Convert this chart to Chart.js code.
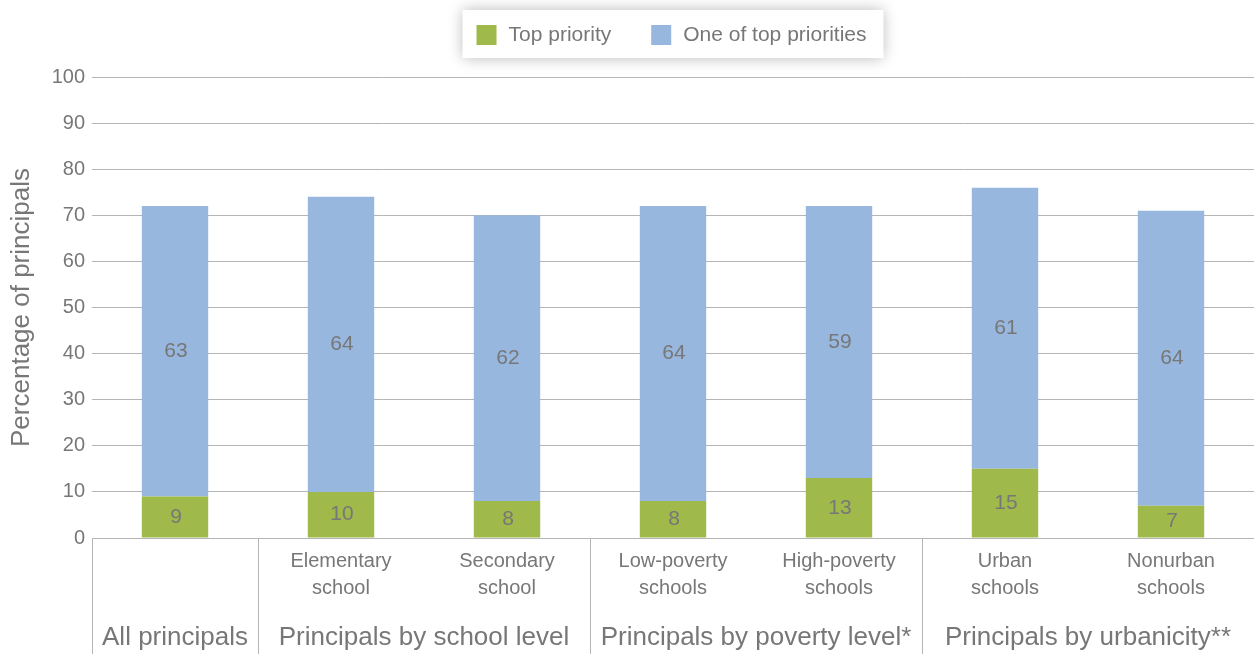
<!DOCTYPE html>
<html>
<head>
<meta charset="utf-8">
<script src="https://cdn.jsdelivr.net/npm/chart.js@4.4.1/dist/chart.umd.min.js"></script>
<style>
  html, body { margin: 0; padding: 0; background: #fff; }
  #wrap { width: 1254px; height: 654px; position: relative; }
</style>
</head>
<body>
<div id="wrap"><canvas id="c" width="1254" height="654"></canvas></div>
<script>
// ---- data ----
const categories = [
  [''],
  ['Elementary', 'school'],
  ['Secondary', 'school'],
  ['Low-poverty', 'schools'],
  ['High-poverty', 'schools'],
  ['Urban', 'schools'],
  ['Nonurban', 'schools']
];
const topPriority = [9, 10, 8, 8, 13, 15, 7];
const oneOfTopPriorities = [63, 64, 62, 64, 59, 61, 64];
const groupNames = ['All principals', 'Principals by school level', 'Principals by poverty level*', 'Principals by urbanicity**'];
const groupSizes = [1, 2, 2, 2];
const seriesNames = ['Top priority', 'One of top priorities'];
const yTicks = [0, 10, 20, 30, 40, 50, 60, 70, 80, 90, 100];

const GREEN = '#9fba4a';
const BLUE = '#97b7de';
const TEXT = '#777777';
const GRID = '#b5b5b5';
const FONT = "'Liberation Sans', Arial, sans-serif";

const valueLabels = {
  id: 'valueLabels',
  afterDatasetsDraw(chart) {
    const ctx = chart.ctx;
    ctx.save();
    ctx.font = '21px ' + FONT;
    ctx.fillStyle = TEXT;
    ctx.textAlign = 'center';
    ctx.textBaseline = 'middle';
    chart.data.datasets.forEach((ds, di) => {
      const meta = chart.getDatasetMeta(di);
      meta.data.forEach((el, i) => {
        const p = el.getProps(['x', 'y', 'base'], true);
        ctx.fillText(String(ds.data[i]), p.x + 1, (p.y + p.base) / 2);
      });
    });
    ctx.restore();
  }
};

const groupsPlugin = {
  id: 'groups',
  afterDraw(chart) {
    const ctx = chart.ctx;
    const xs = chart.scales.x;
    const half = (xs.getPixelForValue(1) - xs.getPixelForValue(0)) / 2;
    const bottom = chart.chartArea.bottom;
    ctx.save();
    ctx.strokeStyle = GRID;
    ctx.lineWidth = 1;
    ctx.font = '26px ' + FONT;
    ctx.fillStyle = TEXT;
    ctx.textAlign = 'center';
    ctx.textBaseline = 'middle';
    let start = 0;
    groupSizes.forEach((n, g) => {
      const x1 = xs.getPixelForValue(start) - half;
      const x2 = xs.getPixelForValue(start + n - 1) + half;
      const lx = Math.round(x1) + 0.5;
      ctx.beginPath();
      ctx.moveTo(lx, bottom);
      ctx.lineTo(lx, chart.height);
      ctx.stroke();
      ctx.fillText(groupNames[g], (x1 + x2) / 2, 638);
      start += n;
    });
    ctx.restore();
  }
};

const legendPlugin = {
  id: 'customLegend',
  afterDraw(chart) {
    const ctx = chart.ctx;
    ctx.save();
    ctx.font = '21px ' + FONT;
    const colors = [GREEN, BLUE];
    const box = 20, gap = 12, itemGap = 40, pad = 14;
    const widths = seriesNames.map(s => ctx.measureText(s).width);
    let total = pad * 2 + 3;
    widths.forEach((w, i) => { total += box + gap + w + (i ? itemGap : 0); });
    const ca = chart.chartArea;
    const cx = (ca.left + ca.right) / 2;
    const bx = cx - total / 2, by = 10, bh = 48;
    ctx.shadowColor = 'rgba(0,0,0,0.28)';
    ctx.shadowBlur = 14;
    ctx.fillStyle = '#ffffff';
    ctx.fillRect(bx, by, total, bh);
    ctx.shadowColor = 'transparent';
    ctx.shadowBlur = 0;
    let x = bx + pad;
    const cy = by + bh / 2 + 1;
    seriesNames.forEach((s, i) => {
      ctx.fillStyle = colors[i];
      ctx.fillRect(x, cy - box / 2, box, box);
      x += box + gap;
      ctx.fillStyle = TEXT;
      ctx.textAlign = 'left';
      ctx.textBaseline = 'middle';
      ctx.fillText(s, x, cy);
      x += widths[i] + itemGap;
    });
    ctx.restore();
  }
};

new Chart(document.getElementById('c'), {
  type: 'bar',
  data: {
    labels: categories,
    datasets: [
      { label: seriesNames[0], data: topPriority, backgroundColor: GREEN },
      { label: seriesNames[1], data: oneOfTopPriorities, backgroundColor: BLUE }
    ]
  },
  options: {
    responsive: false,
    animation: false,
    devicePixelRatio: 1,
    layout: { padding: { top: 77, right: 0, left: 0, bottom: 0 } },
    datasets: { bar: { barPercentage: 0.4, categoryPercentage: 1.0 } },
    plugins: {
      legend: { display: false },
      tooltip: { enabled: false }
    },
    scales: {
      x: {
        stacked: true,
        grid: { display: false, drawTicks: false },
        border: { display: true, color: GRID },
        ticks: {
          color: TEXT,
          font: { family: FONT, size: 20, lineHeight: 1.35 },
          padding: 10,
          maxRotation: 0,
          autoSkip: false
        },
        afterFit(scale) { scale.height = 116; }
      },
      y: {
        stacked: true,
        min: 0,
        max: 100,
        afterBuildTicks(scale) { scale.ticks = yTicks.map(v => ({ value: v })); },
        grid: { color: GRID, drawTicks: false },
        border: { display: false },
        ticks: {
          color: TEXT,
          font: { family: FONT, size: 20 },
          padding: 7
        },
        title: {
          display: true,
          text: 'Percentage of principals',
          color: TEXT,
          font: { family: FONT, size: 26 },
          padding: { top: 6, bottom: 0 }
        },
        afterFit(scale) { scale.width = 92; }
      }
    }
  },
  plugins: [valueLabels, groupsPlugin, legendPlugin]
});
</script>
</body>
</html>
